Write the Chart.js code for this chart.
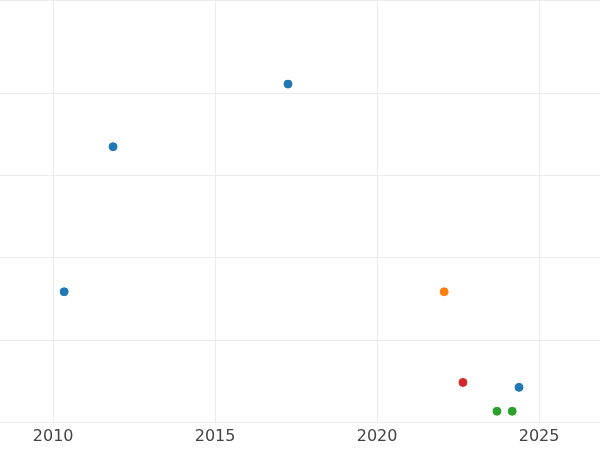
<!DOCTYPE html>
<html>
<head>
<meta charset="utf-8">
<script src="https://cdn.jsdelivr.net/npm/chart.js@4"></script>
<style>
  html, body { margin: 0; padding: 0; background: #fff; }
  #wrap { width: 600px; height: 450px; }
</style>
</head>
<body>
<div id="wrap"><canvas id="chart"></canvas></div>
<script>
// data
const blueX = [2010.34, 2011.85, 2017.25, 2024.38];
const blueY = [1.59, 3.35, 4.11, 0.43];
const orangeX = [2022.07];
const orangeY = [1.59];
const redX = [2022.65];
const redY = [0.49];
const greenX = [2023.7, 2024.17];
const greenY = [0.14, 0.14];
const xTicks = [2010, 2015, 2020, 2025];

function pts(xs, ys) {
  return xs.map((x, i) => ({ x: x, y: ys[i] }));
}

function series(xs, ys, color) {
  return {
    data: pts(xs, ys),
    backgroundColor: color,
    borderColor: color,
    pointRadius: 4,
    pointHoverRadius: 4,
    clip: false
  };
}

new Chart(document.getElementById('chart'), {
  type: 'scatter',
  data: {
    datasets: [
      series(blueX, blueY, '#1f77b4'),
      series(orangeX, orangeY, '#ff7f0e'),
      series(redX, redY, '#d62728'),
      series(greenX, greenY, '#2ca02c')
    ]
  },
  options: {
    responsive: true,
    maintainAspectRatio: false,
    animation: false,
    layout: { padding: 0, autoPadding: false },
    plugins: {
      legend: { display: false },
      tooltip: { enabled: false }
    },
    scales: {
      x: {
        type: 'linear',
        min: 2008.36,
        max: 2026.88,
        afterBuildTicks: scale => { scale.ticks = xTicks.map(v => ({ value: v })); },
        grid: { color: '#ebebeb', drawTicks: false },
        border: { display: false },
        ticks: {
          color: '#444',
          font: { family: 'DejaVu Sans', size: 16 },
          padding: 4,
          callback: v => String(v)
        }
      },
      y: {
        min: 0,
        max: 5.13,
        ticks: { display: false, stepSize: 1 },
        grid: { color: '#ebebeb', drawTicks: false },
        border: { display: false }
      }
    }
  }
});
</script>
</body>
</html>
